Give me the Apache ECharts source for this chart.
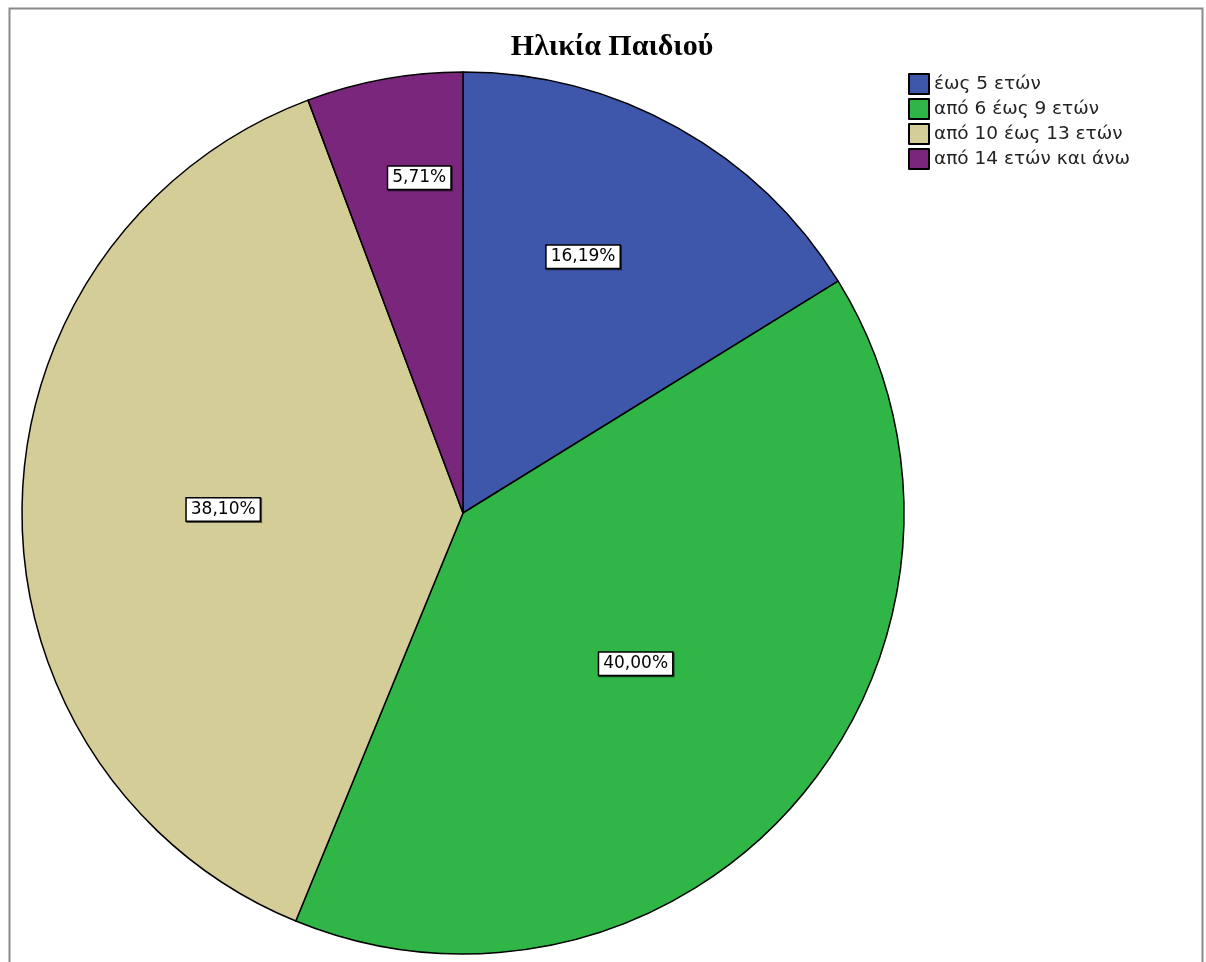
<!DOCTYPE html>
<html>
<head>
<meta charset="utf-8">
<style>
  html, body { margin: 0; padding: 0; background: #fff; }
  #chart { width: 1206px; height: 962px; }
</style>
<script src="https://cdn.jsdelivr.net/npm/echarts@6/dist/echarts.min.js"></script>
</head>
<body>
<div id="chart"></div>
<script>
// Age groups of the children and their counts (n = 105)
const categories = ['έως 5 ετών', 'από 6 έως 9 ετών', 'από 10 έως 13 ετών', 'από 14 ετών και άνω'];
const counts = [17, 42, 40, 6];
const colors = ['#3f57ab', '#2fb647', '#d4cd97', '#7a267c'];
// Placement of each percentage label: fraction of the radius, and
// position across the slice's angular span (0.5 = middle)
const labelRadius = [0.635, 0.513, 0.537, 0.76];
const labelSpan = [0.43, 0.506, 0.5, 0.64];

const total = counts.reduce((a, b) => a + b, 0);
const R = 441;

// Start/end angles (clockwise from 12 o'clock) of each slice
const startAngles = [], endAngles = [];
let acc = 0;
counts.forEach(v => {
  startAngles.push(acc / total * 2 * Math.PI);
  acc += v;
  endAngles.push(acc / total * 2 * Math.PI);
});

const chart = echarts.init(document.getElementById('chart'));
chart.setOption({
  backgroundColor: '#ffffff',
  animation: false,
  title: {
    text: 'Ηλικία Παιδιού',
    left: 607,
    top: 27,
    textAlign: 'center',
    textStyle: {
      fontFamily: 'Liberation Serif',
      fontWeight: 'bold',
      fontSize: 30,
      color: '#000'
    }
  },
  legend: {
    orient: 'vertical',
    left: 903,
    top: 68,
    itemWidth: 20,
    itemHeight: 20,
    itemGap: 3,
    icon: 'rect',
    textStyle: {
      fontFamily: 'DejaVu Sans',
      fontSize: 18.5,
      color: '#222'
    },
    data: categories
  },
  graphic: [{
    type: 'rect',
    shape: { x: 9.5, y: 8.5, width: 1193, height: 1000 },
    style: { fill: 'none', stroke: '#8a8a8a', lineWidth: 2 },
    silent: true
  }],
  series: [{
    type: 'pie',
    center: [463, 513],
    radius: [0, R],
    startAngle: 90,
    clockwise: true,
    avoidLabelOverlap: false,
    itemStyle: { borderColor: '#000', borderWidth: 1.5 },
    label: {
      show: true,
      position: 'inside',
      formatter: p => (p.value / total * 100).toFixed(2).replace('.', ',') + '%',
      fontFamily: 'DejaVu Sans',
      fontSize: 17,
      color: '#000',
      backgroundColor: '#fff',
      borderColor: '#000',
      borderWidth: 1.5,
      padding: [3, 4, 2, 4],
      shadowColor: 'rgba(0,0,0,0.6)',
      shadowBlur: 0,
      shadowOffsetX: 1,
      shadowOffsetY: 1
    },
    labelLayout: params => {
      const i = params.dataIndex;
      const mid = (startAngles[i] + endAngles[i]) / 2;
      const target = startAngles[i] + labelSpan[i] * (endAngles[i] - startAngles[i]);
      const r = labelRadius[i] * R;
      return {
        dx: r * Math.sin(target) - 0.5 * R * Math.sin(mid),
        dy: -r * Math.cos(target) + 0.5 * R * Math.cos(mid)
      };
    },
    emphasis: { disabled: true },
    data: categories.map((name, i) => ({
      name: name,
      value: counts[i],
      itemStyle: { color: colors[i] }
    }))
  }]
});
</script>
</body>
</html>
